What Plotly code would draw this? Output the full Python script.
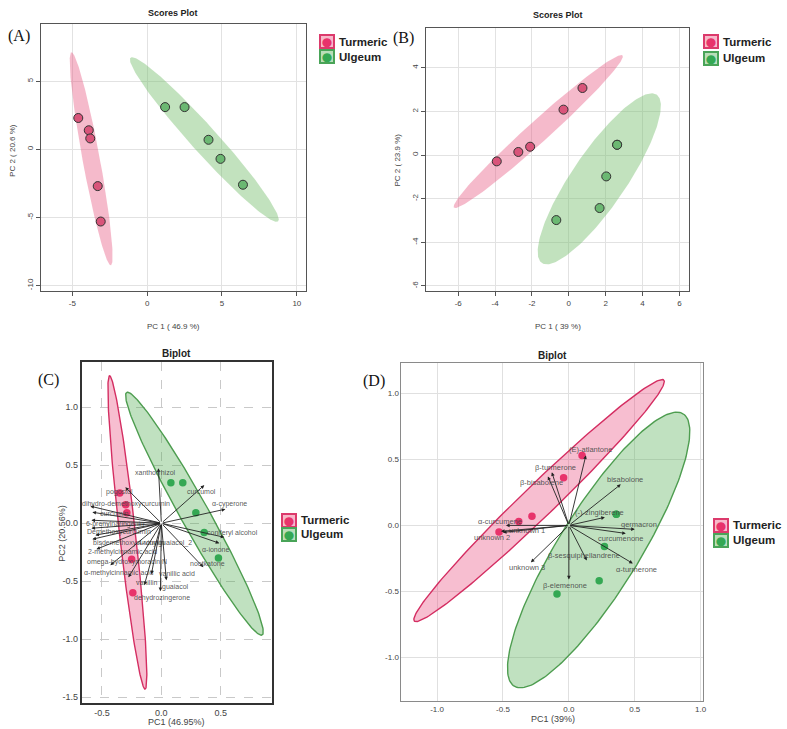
import numpy as np
import plotly.graph_objects as go

W, H = 787, 729

# ---------------- DATA ----------------
groups = ["Turmeric", "Ulgeum"]

# Panel A scores (PC1 46.9 %, PC2 20.6 %)
A_tur_pc1 = [-4.6, -3.9, -3.8, -3.3, -3.1]
A_tur_pc2 = [2.3, 1.4, 0.8, -2.7, -5.3]
A_ulg_pc1 = [1.2, 2.5, 4.1, 4.9, 6.4]
A_ulg_pc2 = [3.1, 3.1, 0.7, -0.7, -2.6]

# Panel B scores (PC1 39 %, PC2 23.9 %)
B_tur_pc1 = [-3.91, -2.74, -2.10, -0.29, 0.74]
B_tur_pc2 = [-0.29, 0.14, 0.38, 2.08, 3.07]
B_ulg_pc1 = [2.62, 2.62, 2.03, 1.67, -0.68]
B_ulg_pc2 = [0.47, 0.47, -0.98, -2.43, -2.98]

# Panel C biplot scores
C_tur_pc1 = [-0.35, -0.30, -0.29, -0.25, -0.24]
C_tur_pc2 = [0.26, 0.16, 0.09, -0.31, -0.60]
C_ulg_pc1 = [0.08, 0.18, 0.29, 0.36, 0.48]
C_ulg_pc2 = [0.35, 0.35, 0.09, -0.08, -0.30]

# Panel C loadings
C_vars = ["xanthorrhizol", "curcumol", "α-cyperone", "pogostol",
          "dihydro-demethoxycurcumin", "curcumin", "6-prenylnaringenin",
          "Demethoxycurcumin", "bisdemethoxycurcumin", "4-vinylguaiacol_2",
          "2-methylcinnamic acid", "omega-hydroxymoracin N",
          "α-methylcinnamic acid", "vanillic acid", "vanillin", "guaiacol",
          "dehydrozingerone", "coniferyl alcohol", "α-ionone", "nootkatone"]
C_load1 = [-0.025, 0.361, 0.538, -0.303, -0.597, -0.580, -0.588, -0.588,
           -0.580, -0.555, -0.546, -0.429, -0.277, -0.084, -0.143, -0.008,
           0.042, 0.529, 0.487, 0.353]
C_load2 = [0.474, 0.328, 0.121, 0.310, 0.147, 0.095, 0.026, -0.043,
           -0.138, -0.103, -0.224, -0.362, -0.466, -0.440, -0.534, -0.586,
           -0.491, -0.121, -0.172, -0.379]

# Panel D biplot scores
D_tur_pc1 = [0.10, -0.04, -0.28, -0.38, -0.53]
D_tur_pc2 = [0.53, 0.36, 0.07, 0.03, -0.05]
D_ulg_pc1 = [0.36, 0.36, 0.27, 0.23, -0.09]
D_ulg_pc2 = [0.085, 0.085, -0.16, -0.42, -0.52]

# Panel D loadings
D_vars = ["(E)-atlantone", "β-turmerone", "β-bisabolene", "bisabolone",
          "(-)-zingiberene", "germacron", "curcumenone", "α-turmerone",
          "β-sesquiphellandrene", "β-elemenone", "unknown 3", "α-curcumene",
          "unknown 1", "unknown 2"]
D_load1 = [0.129, -0.129, -0.159, 0.394, 0.273, 0.500, 0.432, 0.485,
           0.136, 0.000, -0.288, -0.477, -0.515, -0.500]
D_load2 = [0.530, 0.402, 0.371, 0.311, 0.061, -0.030, -0.061, -0.288,
           -0.265, -0.409, -0.280, 0.000, -0.045, -0.053]

# ---------------- STYLE ----------------
# label pixel offsets (style only)
C_lab_dx = [-3, -3, 4, -6, 36, 22, 24, 28, 37, 70, 26, 17, -9, 26, 3, 15, -4, 8, -3, 4]
C_lab_dy = [-4, -6, 5, -5, 2, -1, -4, -4, -4, -8, -3, 3, 4, 1, 3, 4, -18, 4, -6, 4]
D_lab_dx = [5, 4, -6, 4, -5, 4, -5, 4, -3, -4, -4, -6, 26, -11]
D_lab_dy = [6, 5, -6, 5, 5, 5, -5, -6, 5, -6, -5, 4, 1, -5]

PINK_PT_A = "#D9547A"
GREEN_PT_A = "#6BB872"
PINK_FILL_A = "rgba(232,90,130,0.42)"
GREEN_FILL_A = "rgba(120,190,110,0.45)"
PINK_PT = "#E8336B"
GREEN_PT = "#34A853"
PINK_LINE = "#D42E62"
GREEN_LINE = "#4E9D50"
PINK_FILL = "rgba(232,70,120,0.35)"
GREEN_FILL = "rgba(90,175,90,0.38)"
FONT = "Liberation Sans, Arial, sans-serif"
SERIF = "Liberation Serif, Times New Roman, serif"


def ellipse(xs, ys, radius, n=200):
    xs = np.asarray(xs, float)
    ys = np.asarray(ys, float)
    c = np.cov(np.vstack([xs, ys]))
    vals, vecs = np.linalg.eigh(c)
    vals = np.clip(vals, 0, None)
    t = np.linspace(0, 2 * np.pi, n)
    circ = np.vstack([np.cos(t), np.sin(t)])
    pts = vecs @ (np.sqrt(vals)[:, None] * circ) * radius
    return xs.mean() + pts[0], ys.mean() + pts[1]


R_CHI = np.sqrt(-2 * np.log(0.05))  # sqrt(qchisq(0.95, 2))


def r_f(n):
    d = n - 1
    qf = (d / 2.0) * (0.05 ** (-2.0 / d) - 1.0)
    return np.sqrt(2 * qf)


fig = go.Figure()


def px_x(p):
    return p / W


def px_y(p):
    return 1 - p / H


# ---- Panels A & B (scores plots) ----
for ax, (tx, ty, ux, uy) in [("", (A_tur_pc1, A_tur_pc2, A_ulg_pc1, A_ulg_pc2)),
                             ("2", (B_tur_pc1, B_tur_pc2, B_ulg_pc1, B_ulg_pc2))]:
    for xs, ys, fc in [(tx, ty, PINK_FILL_A), (ux, uy, GREEN_FILL_A)]:
        ex, ey = ellipse(xs, ys, R_CHI)
        fig.add_trace(go.Scatter(x=ex, y=ey, mode="lines", fill="toself",
                                 fillcolor=fc, line=dict(width=0),
                                 hoverinfo="skip", showlegend=False,
                                 xaxis="x" + ax, yaxis="y" + ax))
    for xs, ys, mc, name in [(tx, ty, PINK_PT_A, groups[0]), (ux, uy, GREEN_PT_A, groups[1])]:
        fig.add_trace(go.Scatter(x=xs, y=ys, mode="markers", name=name,
                                 marker=dict(size=9, color=mc,
                                             line=dict(color="#333333", width=1)),
                                 showlegend=False, xaxis="x" + ax, yaxis="y" + ax))

# ---- Panels C & D (biplots) ----
annotations = []
for ax, (tx, ty, ux, uy), vars_, l1, l2, dx, dy, fs in [
        ("3", (C_tur_pc1, C_tur_pc2, C_ulg_pc1, C_ulg_pc2), C_vars, C_load1, C_load2, C_lab_dx, C_lab_dy, 7),
        ("4", (D_tur_pc1, D_tur_pc2, D_ulg_pc1, D_ulg_pc2), D_vars, D_load1, D_load2, D_lab_dx, D_lab_dy, 7.5)]:
    for xs, ys, fc, lc in [(tx, ty, PINK_FILL, PINK_LINE), (ux, uy, GREEN_FILL, GREEN_LINE)]:
        ex, ey = ellipse(xs, ys, r_f(len(xs)))
        fig.add_trace(go.Scatter(x=ex, y=ey, mode="lines", fill="toself",
                                 fillcolor=fc, line=dict(width=1.4, color=lc),
                                 hoverinfo="skip", showlegend=False,
                                 xaxis="x" + ax, yaxis="y" + ax))
    for xs, ys, mc, name in [(tx, ty, PINK_PT, groups[0]), (ux, uy, GREEN_PT, groups[1])]:
        fig.add_trace(go.Scatter(x=xs, y=ys, mode="markers", name=name,
                                 marker=dict(size=7.5, color=mc),
                                 showlegend=False, xaxis="x" + ax, yaxis="y" + ax))
    for v, a, b, sx, sy in zip(vars_, l1, l2, dx, dy):
        annotations.append(dict(x=a, y=b, ax=0, ay=0, xref="x" + ax, yref="y" + ax,
                                axref="x" + ax, ayref="y" + ax, text="",
                                showarrow=True, arrowhead=2, arrowsize=0.8,
                                arrowwidth=0.9, arrowcolor="#222222"))
        annotations.append(dict(x=a, y=b, xref="x" + ax, yref="y" + ax, text=v,
                                showarrow=False, xshift=sx, yshift=sy,
                                font=dict(size=fs, color="rgba(70,70,70,0.9)", family=FONT)))


# ---------------- AXES ----------------
def dom(x0, x1, y0, y1):
    return [px_x(x0), px_x(x1)], [px_y(y1), px_y(y0)]


axes_spec = {
    "": dict(box=(41, 307, 24, 291), xr=[-7.1, 10.6], yr=[-10.4, 9.2],
             xt=[-5, 0, 5, 10], yt=[-10, -5, 0, 5], kind="score"),
    "2": dict(box=(428, 692, 28, 291), xr=[-7.73, 6.54], yr=[-6.23, 5.82],
              xt=[-6, -4, -2, 0, 2, 4, 6], yt=[-6, -4, -2, 0, 2, 4], kind="score"),
    "3": dict(box=(82, 273, 362, 703), xr=[-0.67, 0.93], yr=[-1.55, 1.39],
              xt=[-0.5, 0.0, 0.5], yt=[-1.5, -1.0, -0.5, 0.0, 0.5, 1.0], kind="C"),
    "4": dict(box=(403, 706, 363, 701), xr=[-1.27, 1.02], yr=[-1.33, 1.23],
              xt=[-1.0, -0.5, 0.0, 0.5, 1.0], yt=[-1.0, -0.5, 0.0, 0.5, 1.0], kind="D"),
}

layout_axes = {}
for key, s in axes_spec.items():
    xd, yd = dom(*s["box"])
    if s["kind"] == "score":
        common = dict(showline=True, mirror=True, linecolor="#555555", linewidth=1,
                      showgrid=True, gridcolor="#E2E2E2", gridwidth=1, zeroline=False,
                      ticks="outside", ticklen=4, tickcolor="#555555",
                      tickfont=dict(size=8, color="#444444", family=FONT))
        xa = dict(common, domain=xd, range=s["xr"], tickvals=s["xt"],
                  ticktext=[str(v) for v in s["xt"]])
        ya = dict(common, domain=yd, range=s["yr"], tickvals=s["yt"],
                  ticktext=[str(v) for v in s["yt"]], tickangle=-90)
    elif s["kind"] == "C":
        common = dict(showline=True, mirror=True, linecolor="#333333", linewidth=1.5,
                      showgrid=True, gridcolor="#C9C9C9", gridwidth=1, griddash="dash",
                      zeroline=False, ticks="",
                      tickfont=dict(size=9, color="#444444", family=FONT))
        xa = dict(common, domain=xd, range=s["xr"], tickvals=s["xt"],
                  ticktext=["%.1f" % v for v in s["xt"]])
        ya = dict(common, domain=yd, range=s["yr"], tickvals=s["yt"],
                  ticktext=["%.1f" % v for v in s["yt"]])
    else:
        common = dict(showline=True, mirror=True, linecolor="#8A8A8A", linewidth=1,
                      showgrid=True, gridcolor="#E0E0E0", gridwidth=1, zeroline=False,
                      ticks="",
                      tickfont=dict(size=8, color="#444444", family=FONT))
        xa = dict(common, domain=xd, range=s["xr"], tickvals=s["xt"],
                  ticktext=["%.1f" % v for v in s["xt"]])
        ya = dict(common, domain=yd, range=s["yr"], tickvals=s["yt"],
                  ticktext=["%.1f" % v for v in s["yt"]])
    xa["anchor"] = "y" + key
    ya["anchor"] = "x" + key
    layout_axes["xaxis" + key] = xa
    layout_axes["yaxis" + key] = ya


# ---------------- TEXT ----------------
def txt(x, y, t, size=9, color="#222222", bold=False, angle=0, family=FONT):
    return dict(x=px_x(x), y=px_y(y), xref="paper", yref="paper",
                text=("<b>%s</b>" % t) if bold else t, showarrow=False,
                textangle=angle, font=dict(size=size, color=color, family=family),
                xanchor="center", yanchor="middle")


annotations += [
    txt(174, 13, "Scores Plot", 9, bold=True),
    txt(560, 15, "Scores Plot", 9, bold=True),
    txt(177, 353, "Biplot", 10, bold=True),
    txt(555, 356, "Biplot", 10, bold=True),
    txt(174, 326, "PC 1 ( 46.9 %)", 8, "#444444"),
    txt(13, 150, "PC 2 ( 20.6 %)", 8, "#444444", angle=-90),
    txt(560, 326, "PC 1 ( 39 %)", 8, "#444444"),
    txt(400, 160, "PC 2 ( 23.9 %)", 8, "#444444", angle=-90),
    txt(177, 722, "PC1 (46.95%)", 9, "#444444"),
    txt(62, 533, "PC2 (20.56%)", 9, "#444444", angle=-90),
    txt(555, 719, "PC1 (39%)", 9, "#444444"),
    txt(19, 36, "(A)", 16, "#111111", family=SERIF),
    txt(405, 38, "(B)", 16, "#111111", family=SERIF),
    txt(49, 380, "(C)", 16, "#111111", family=SERIF),
    txt(375, 381, "(D)", 16, "#111111", family=SERIF),
]

# legends
legend_spec = [(320, 42, 57), (706, 42, 58), (282, 520, 534), (716, 525, 540)]
for lx, y1, y2 in legend_spec:
    for yy, name, pc, fc, bc in [(y1, groups[0], PINK_PT, "#F7B9CA", "#DC3A6C"),
                                 (y2, groups[1], GREEN_PT, "#B9DEB9", "#49A458")]:
        annotations.append(dict(x=px_x(lx + 8), y=px_y(yy), xref="paper", yref="paper",
                                text="●", showarrow=False, width=12, height=11,
                                bgcolor=fc, bordercolor=bc, borderwidth=2, borderpad=0,
                                font=dict(size=12, color=pc, family="DejaVu Sans"),
                                xanchor="center", yanchor="middle"))
        annotations.append(dict(x=px_x(lx + 18), y=px_y(yy), xref="paper", yref="paper",
                                text="<b>%s</b>" % name, showarrow=False,
                                font=dict(size=11.5, color="#222222", family=FONT),
                                xanchor="left", yanchor="middle"))

fig.update_layout(width=W, height=H, margin=dict(l=0, r=0, t=0, b=0),
                  paper_bgcolor="white", plot_bgcolor="white",
                  showlegend=False, annotations=annotations, **layout_axes)

fig.write_html("out.html")
